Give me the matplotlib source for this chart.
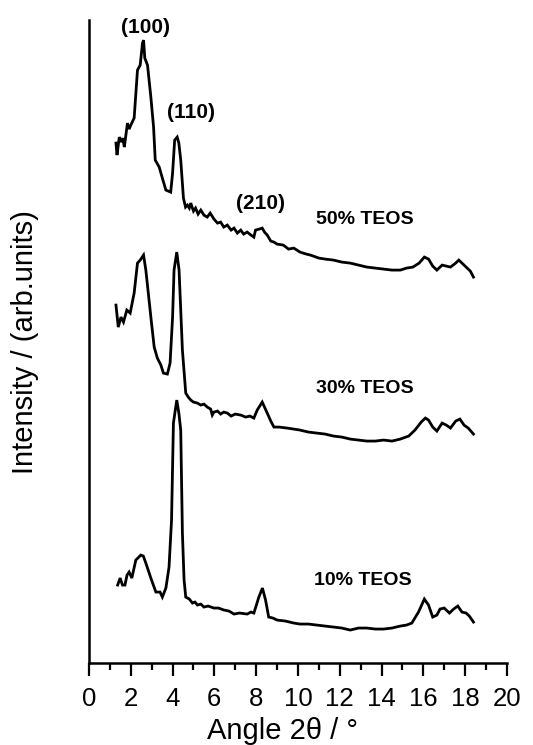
import numpy as np
import matplotlib
matplotlib.use("Agg")
import matplotlib.pyplot as plt
from matplotlib.ticker import MultipleLocator

plt.rcParams['font.family'] = ['Liberation Sans', 'DejaVu Sans']

# XRD patterns, 2theta in degrees, intensity in arbitrary (offset) units
tt_50 = [1.29, 1.34, 1.45, 1.56, 1.62, 1.69, 1.84, 1.92, 2.0, 2.16, 2.32, 2.45, 2.56, 2.61,
         2.67, 2.8, 2.96, 3.09, 3.17, 3.36, 3.51, 3.68, 3.91, 4.0, 4.1, 4.22, 4.3, 4.39,
         4.52, 4.62, 4.71, 4.8, 4.87, 5.0, 5.1, 5.22, 5.35, 5.5, 5.66, 5.8, 5.98, 6.15,
         6.3, 6.45, 6.62, 6.8, 6.94, 7.1, 7.26, 7.4, 7.57, 7.75, 7.89, 7.97, 8.15, 8.29,
         8.4, 8.53, 8.7, 8.85, 9.0, 9.3, 9.55, 9.8, 10.1, 10.4, 10.6, 11.0, 11.3, 11.7,
         12.1, 12.5, 12.9, 13.3, 13.7, 14.1, 14.5, 14.9, 15.2, 15.5, 15.8, 16.05, 16.25,
         16.45, 16.65, 16.9, 17.1, 17.3, 17.55, 17.7, 17.9, 18.1, 18.25, 18.4]
int_50 = [520, 508, 526, 521, 525, 516, 540, 534, 538, 545, 593, 598, 620, 623,
          605, 598, 566, 536, 503, 496, 485, 473, 471, 490, 523, 526, 520, 503,
          465, 456, 458, 455, 460, 452, 455, 449, 453, 448, 446, 450, 444, 440,
          441, 436, 438, 433, 435, 430, 433, 429, 431, 428, 426, 433, 434, 435,
          431, 428, 422, 421, 419, 418, 414, 415, 411, 409, 408, 405, 404, 403,
          401, 400, 398, 396, 395, 394, 393, 393, 395, 396, 400, 406, 404,
          397, 393, 398, 397, 396, 400, 403, 399, 395, 392, 386]

tt_30 = [1.29, 1.4, 1.53, 1.65, 1.81, 1.97, 2.16, 2.32, 2.45, 2.61, 2.72, 2.96, 3.12, 3.27,
         3.44, 3.56, 3.75, 3.88, 4.0, 4.07, 4.2, 4.31, 4.47, 4.63, 4.75, 4.87, 5.0, 5.19,
         5.35, 5.5, 5.66, 5.82, 5.9, 5.98, 6.15, 6.3, 6.45, 6.62, 6.8, 7.0, 7.26, 7.5,
         7.7, 7.89, 8.05, 8.29, 8.4, 8.53, 8.7, 8.85, 9.1, 9.48, 9.8, 10.1, 10.5, 10.9,
         11.3, 11.7, 12.1, 12.5, 12.9, 13.3, 13.7, 14.1, 14.5, 14.9, 15.3, 15.6, 15.9,
         16.1, 16.25, 16.45, 16.65, 16.9, 17.1, 17.3, 17.55, 17.75, 17.95, 18.15, 18.4]
int_30 = [358, 336, 346, 341, 353, 350, 370, 400, 403, 408, 393, 346, 316, 305,
          298, 290, 289, 300, 346, 393, 411, 393, 313, 270, 266, 263, 261, 260,
          258, 259, 256, 254, 248, 251, 252, 249, 251, 250, 247, 249, 248, 246,
          247, 245, 253, 261, 256, 250, 242, 236, 236, 235, 234, 233, 231, 230,
          229, 227, 226, 224, 223, 222, 222, 223, 222, 224, 227, 233, 241,
          245, 243, 236, 232, 240, 238, 235, 242, 244, 238, 235, 229]

tt_10 = [1.37, 1.49, 1.6, 1.72, 1.82, 1.92, 2.05, 2.24, 2.48, 2.6, 2.72, 2.96, 3.2, 3.4,
         3.51, 3.68, 3.83, 3.95, 4.04, 4.2, 4.3, 4.39, 4.47, 4.55, 4.63, 4.8, 4.95, 5.07,
         5.19, 5.35, 5.5, 5.7, 5.98, 6.2, 6.46, 6.7, 6.94, 7.2, 7.57, 7.75, 7.89, 8.13,
         8.3, 8.45, 8.6, 8.8, 9.0, 9.4, 9.8, 10.1, 10.5, 10.9, 11.3, 11.7, 12.1, 12.5,
         12.9, 13.3, 13.7, 14.1, 14.5, 14.9, 15.2, 15.45, 15.77, 16.05, 16.25, 16.45,
         16.65, 16.8, 17.0, 17.25, 17.45, 17.65, 17.85, 18.05, 18.2, 18.4]
int_10 = [78, 85, 78, 78, 88, 91, 85, 103, 108, 107, 100, 85, 71, 71,
          66, 75, 96, 143, 240, 263, 250, 233, 130, 83, 66, 64, 60, 61,
          58, 59, 56, 57, 55, 55, 53, 52, 49, 50, 49, 51, 50, 66,
          75, 63, 46, 45, 43, 42, 40, 39, 39, 38, 37, 36, 35, 33,
          35, 35, 34, 34, 35, 37, 38, 40, 51, 64, 58, 46,
          48, 54, 55, 50, 54, 57, 51, 50, 47, 41]

samples = ['50% TEOS', '30% TEOS', '10% TEOS']
sample_label_pos = [(13.2, 444), (13.2, 275), (13.1, 83)]
reflections = ['(100)', '(110)', '(210)']
reflection_pos = [(2.72, 636), (4.87, 551), (8.2, 460)]

fig = plt.figure(figsize=(5.33, 7.45), dpi=100)
ax = fig.add_axes([0.167, 0.110, 0.784, 0.863])

for x, y in [(tt_50, int_50), (tt_30, int_30), (tt_10, int_10)]:
    ax.plot(x, y, color='black', lw=2.0, solid_joinstyle='miter')

for s, (x, y) in zip(samples, sample_label_pos):
    ax.text(x, y, s, fontsize=14, fontweight='bold', ha='center', va='center')
for s, (x, y) in zip(reflections, reflection_pos):
    ax.text(x, y, s, fontsize=15, fontweight='bold', ha='center', va='center')

ax.set_xlim(0, 20)
ax.set_ylim(0, 643)
ax.xaxis.set_major_locator(MultipleLocator(2))
ax.xaxis.set_minor_locator(MultipleLocator(1))
ax.tick_params(axis='x', which='major', direction='out', length=9, width=1.6,
               labelsize=18.5, pad=8)
ax.tick_params(axis='x', which='minor', direction='out', length=5, width=1.6)
ax.set_yticks([])
for side in ['top', 'right']:
    ax.spines[side].set_visible(False)
for side in ['left', 'bottom']:
    ax.spines[side].set_linewidth(1.8)

ax.set_xlabel('Angle 2θ / °', fontsize=21)
ax.xaxis.set_label_coords(0.464, -0.084)
ax.set_ylabel('Intensity / (arb.units)', fontsize=21)
ax.yaxis.set_label_coords(-0.12, 0.5)

fig.savefig('out.png', dpi=100)
